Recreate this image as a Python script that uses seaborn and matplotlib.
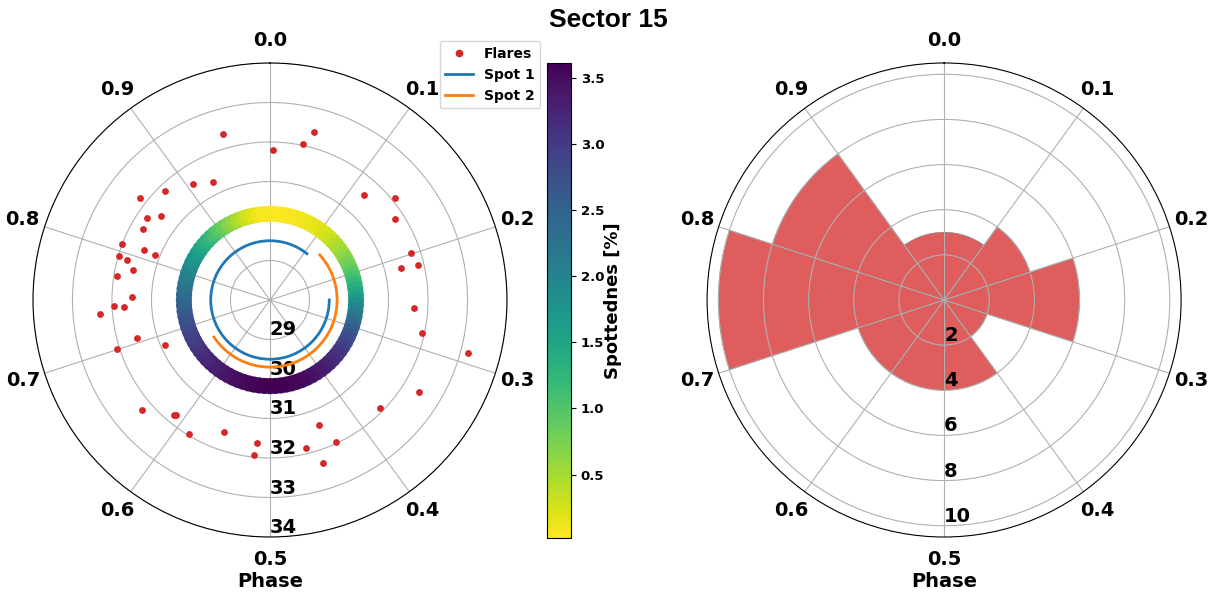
import numpy as np
import pandas as pd
import matplotlib
matplotlib.use("Agg")
import matplotlib.pyplot as plt
import seaborn as sns

# Flare times (days, radial axis) and rotational phases
flare_phase = [0.956, 0.929, 0.907, 0.878, 0.856, 0.854, 0.843, 0.831, 0.808, 0.810,
               0.809, 0.795, 0.793, 0.784, 0.775, 0.754, 0.744, 0.742, 0.737, 0.706,
               0.686, 0.701, 0.637, 0.611, 0.609, 0.587, 0.553, 0.514, 0.516, 0.041,
               0.033, 0.003, 0.116, 0.141, 0.159, 0.199, 0.212, 0.213, 0.259, 0.284,
               0.292, 0.338, 0.373, 0.441, 0.431, 0.462, 0.450, 0.270]
flare_time = [32.36, 31.32, 31.53, 31.83, 32.19, 31.49, 31.74, 31.68, 32.01, 31.44,
              31.12, 31.98, 31.76, 31.54, 31.93, 31.49, 31.94, 31.69, 32.33, 31.49,
              30.88, 32.07, 32.28, 31.79, 31.75, 31.96, 31.54, 31.64, 31.94, 32.40,
              32.03, 31.80, 31.57, 32.10, 31.77, 31.77, 31.41, 31.85, 31.64, 31.94,
              33.18, 32.43, 31.90, 31.39, 31.97, 31.85, 32.33, 34.30]

# Spot longitudes (phase) tracked over time
spot1_phase = [0.250, 0.500, 0.750, 1.000, 1.107]
spot1_time = [29.50, 29.50, 29.50, 29.50, 29.50]
spot2_phase = [0.133, 0.300, 0.500, 0.657]
spot2_time = [29.70, 29.70, 29.70, 29.70]

# Spottedness [%] versus rotational phase
spot_phase = [0.00, 0.01, 0.02, 0.03, 0.04, 0.05, 0.06, 0.07, 0.08, 0.09,
              0.10, 0.11, 0.12, 0.13, 0.14, 0.15, 0.16, 0.17, 0.18, 0.19,
              0.20, 0.21, 0.22, 0.23, 0.24, 0.25, 0.26, 0.27, 0.28, 0.29,
              0.30, 0.31, 0.32, 0.33, 0.34, 0.35, 0.36, 0.37, 0.38, 0.39,
              0.40, 0.41, 0.42, 0.43, 0.44, 0.45, 0.46, 0.47, 0.48, 0.49,
              0.50, 0.51, 0.52, 0.53, 0.54, 0.55, 0.56, 0.57, 0.58, 0.59,
              0.60, 0.61, 0.62, 0.63, 0.64, 0.65, 0.66, 0.67, 0.68, 0.69,
              0.70, 0.71, 0.72, 0.73, 0.74, 0.75, 0.76, 0.77, 0.78, 0.79,
              0.80, 0.81, 0.82, 0.83, 0.84, 0.85, 0.86, 0.87, 0.88, 0.89,
              0.90, 0.91, 0.92, 0.93, 0.94, 0.95, 0.96, 0.97, 0.98, 0.99]
spottedness = [0.02, 0.02, 0.03, 0.04, 0.05, 0.06, 0.08, 0.10, 0.12, 0.15,
               0.18, 0.22, 0.27, 0.33, 0.40, 0.47, 0.55, 0.64, 0.74, 0.84,
               0.95, 1.07, 1.20, 1.35, 1.50, 1.68, 1.85, 2.00, 2.15, 2.30,
               2.45, 2.58, 2.70, 2.80, 2.90, 2.98, 3.05, 3.13, 3.20, 3.26,
               3.32, 3.37, 3.42, 3.46, 3.50, 3.53, 3.56, 3.58, 3.60, 3.61,
               3.61, 3.61, 3.60, 3.59, 3.57, 3.55, 3.52, 3.49, 3.46, 3.42,
               3.38, 3.34, 3.29, 3.24, 3.19, 3.14, 3.08, 3.02, 2.96, 2.90,
               2.84, 2.77, 2.70, 2.63, 2.55, 2.48, 2.40, 2.32, 2.24, 2.15,
               2.06, 1.97, 1.87, 1.77, 1.66, 1.55, 1.44, 1.32, 1.20, 1.08,
               0.96, 0.84, 0.72, 0.60, 0.48, 0.37, 0.27, 0.18, 0.10, 0.05]
ring_time = 30.18

phase_ticks = [0.0, 0.1, 0.2, 0.3, 0.4, 0.5, 0.6, 0.7, 0.8, 0.9]
time_ticks = [29, 30, 31, 32, 33, 34]
count_ticks = [2, 4, 6, 8, 10]

TWO_PI = 2 * np.pi

flares = pd.DataFrame({"theta": np.array(flare_phase) * TWO_PI, "r": flare_time})
spot1 = pd.DataFrame({"theta": np.array(spot1_phase) * TWO_PI, "r": spot1_time})
spot2 = pd.DataFrame({"theta": np.array(spot2_phase) * TWO_PI, "r": spot2_time})
ring = pd.DataFrame({"theta": np.array(spot_phase) * TWO_PI,
                     "r": [ring_time] * len(spot_phase),
                     "spot": spottedness})

fig = plt.figure(figsize=(12.17, 5.92), dpi=100)
ax1 = fig.add_axes([0.0271, 0.0929, 0.3895, 0.8007], projection="polar")
ax2 = fig.add_axes([0.5810, 0.0929, 0.3895, 0.8007], projection="polar")
cax = fig.add_axes([0.4495, 0.0912, 0.0197, 0.802])


def style_polar(ax):
    ax.set_theta_zero_location("N")
    ax.set_theta_direction(-1)
    ax.set_xticks(np.array(phase_ticks) * TWO_PI)
    ax.set_xticklabels([f"{p:.1f}" for p in phase_ticks], fontsize=14, fontweight="bold")
    ax.set_rlabel_position(180)
    ax.set_xlabel("Phase", fontsize=14, fontweight="bold", labelpad=2)
    ax.tick_params(axis="x", pad=6)


# Left: flares, spots and spottedness ring
vmin, vmax = 0.02, 3.61
norm = plt.Normalize(vmin, vmax)
sns.scatterplot(data=ring, x="theta", y="r", hue="spot", palette="viridis_r",
                hue_norm=norm, s=135, linewidth=0, legend=False, ax=ax1, zorder=2)
sns.lineplot(data=spot1, x="theta", y="r", sort=False, estimator=None,
             color="tab:blue", lw=2, label="Spot 1", ax=ax1)
sns.lineplot(data=spot2, x="theta", y="r", sort=False, estimator=None,
             color="tab:orange", lw=2, label="Spot 2", ax=ax1)
for ln in ax1.get_lines():
    ln.get_path()._interpolation_steps = 200
ax1.plot([], [], "o", color="tab:red", ms=4.5, label="Flares")
sns.scatterplot(data=flares, x="theta", y="r", color="tab:red", s=24,
                linewidth=0, ax=ax1, zorder=3)
style_polar(ax1)
ax1.set_ylim(28, 34)
ax1.set_yticks(time_ticks)
ax1.set_yticklabels([str(t) for t in time_ticks], fontsize=14, fontweight="bold")
ax1.set_ylabel("")

handles, labels = ax1.get_legend_handles_labels()
order = [labels.index(n) for n in ["Flares", "Spot 1", "Spot 2"]]
ax1.legend([handles[i] for i in order], [labels[i] for i in order],
           loc="upper right", bbox_to_anchor=(0.4440, 0.930),
           bbox_transform=fig.transFigure, prop={"weight": "bold", "size": 10},
           borderaxespad=0)

sm = plt.cm.ScalarMappable(norm=norm, cmap="viridis_r")
cb = fig.colorbar(sm, cax=cax)
cb.set_ticks([0.5, 1.0, 1.5, 2.0, 2.5, 3.0, 3.5])
cb.ax.tick_params(labelsize=9.5)
for t in cb.ax.get_yticklabels():
    t.set_fontweight("bold")
cb.set_label("Spottednes [%]", fontsize=13, fontweight="bold", labelpad=0)

# Right: histogram of flare phases
counts, edges = np.histogram(flare_phase, bins=10, range=(0, 1))
ax2.bar(edges[:-1] * TWO_PI, counts, width=TWO_PI / 10, align="edge",
        color="tab:red", alpha=0.75, edgecolor="grey", linewidth=0.6)
style_polar(ax2)
ax2.set_ylim(0, 10.5)
ax2.set_yticks(count_ticks)
ax2.set_yticklabels([str(c) for c in count_ticks], fontsize=14, fontweight="bold")

fig.suptitle("Sector 15", fontsize=19, fontweight="bold",
             family=["Liberation Sans", "DejaVu Sans"], y=0.987)

fig.savefig("out.png", dpi=100)
